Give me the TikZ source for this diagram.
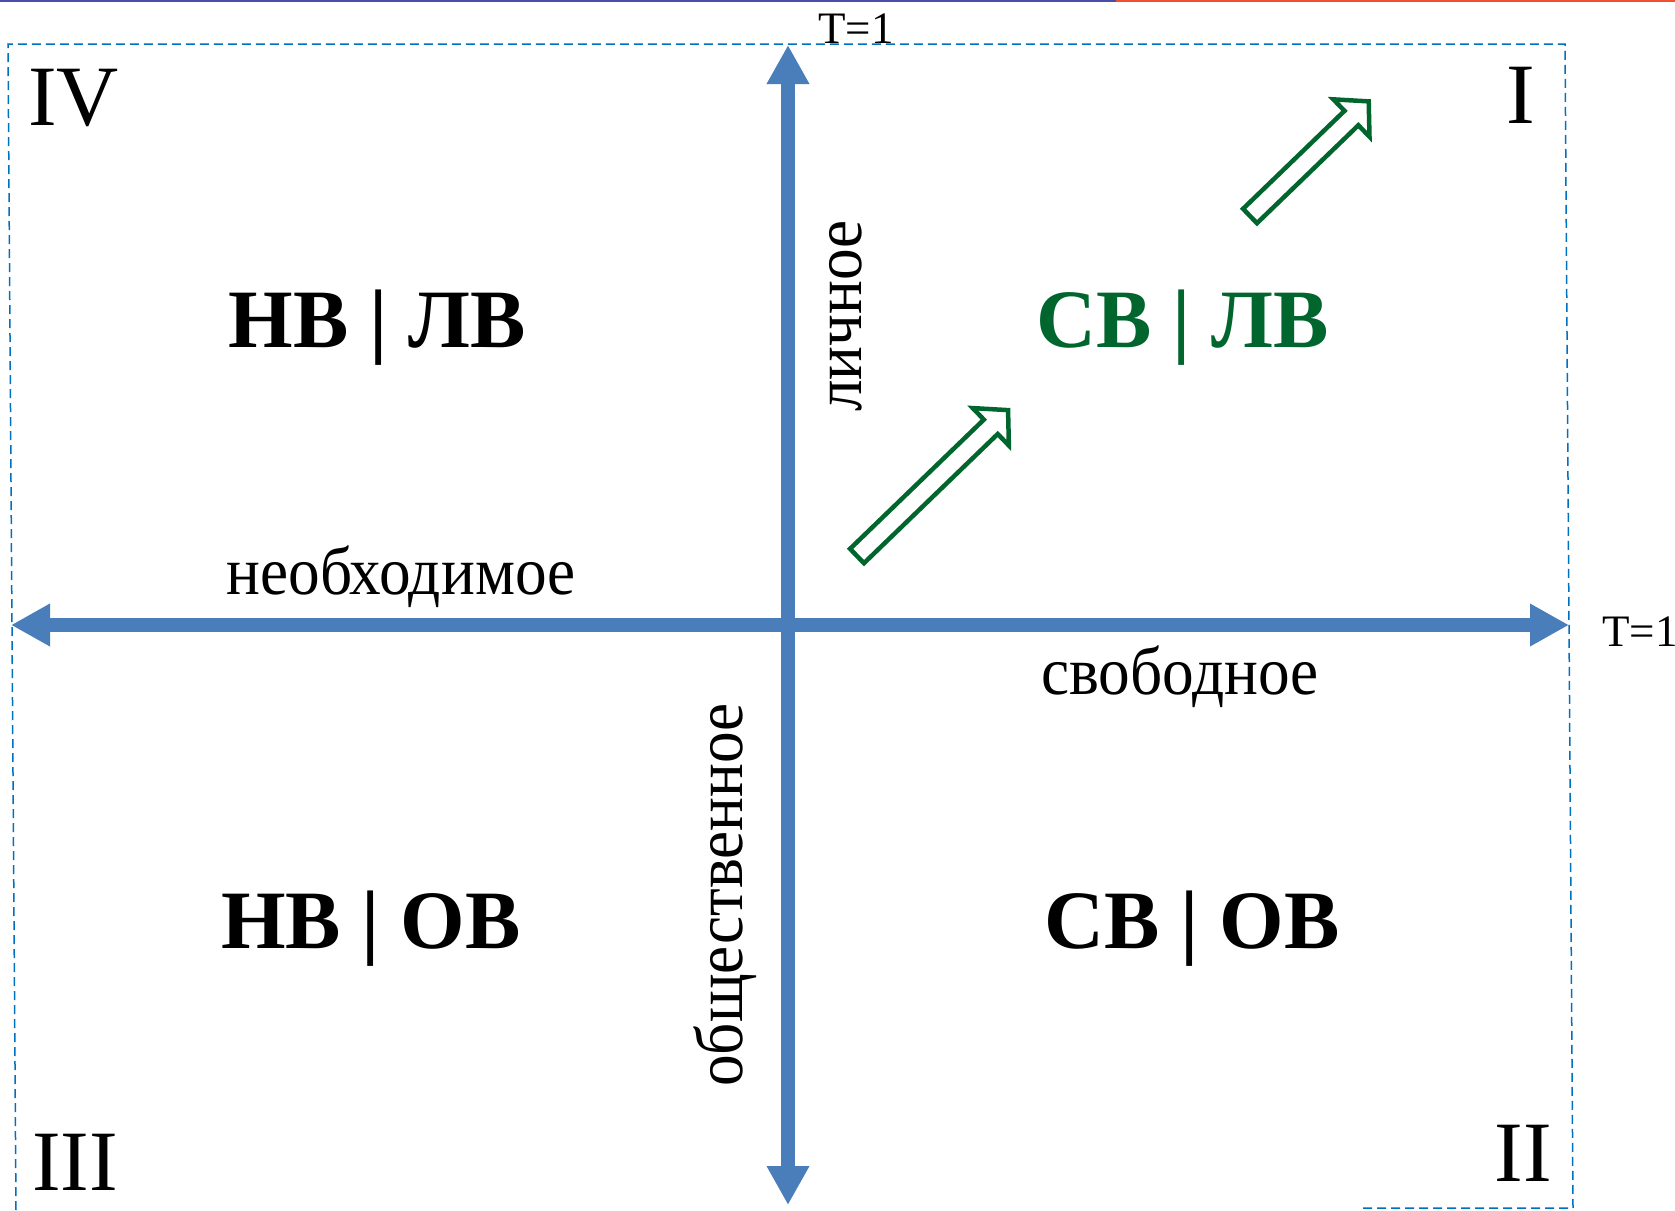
\documentclass[tikz,border=0pt]{standalone}
\usepackage{fontspec}
\setmainfont{Liberation Serif}
\newfontfamily\axisfont[FakeStretch=0.93]{Liberation Serif}
\usetikzlibrary{arrows.meta}
\definecolor{axisblue}{HTML}{4A7EBB}
\definecolor{frameblue}{HTML}{0070C0}
\definecolor{darkgreen}{HTML}{00662E}
\definecolor{barblue}{HTML}{4B4BA8}
\definecolor{barred}{HTML}{F0502D}

\begin{document}
\begin{tikzpicture}[x=1pt,y=-1pt,>={Triangle[width=40pt,length=39pt]},
                mainaxis/.style={<->,line width=14pt,draw=axisblue},
                dashframe/.style={draw=frameblue,line width=1.5pt,dash pattern=on 9pt off 5pt},
                block/.style={draw=darkgreen,line width=4.5pt,fill=white,line join=miter},
                quad/.style={font=\fontsize{83}{90}\selectfont\bfseries,anchor=base,inner sep=0pt},
                roman/.style={font=\fontsize{86}{90}\selectfont,anchor=base,inner sep=0pt},
                tlabel/.style={font=\fontsize{45}{50}\selectfont,anchor=base,inner sep=0pt},
                axislabel/.style={font=\axisfont\fontsize{68}{72}\selectfont,anchor=base,inner sep=0pt}]
                \fill[white](0, 0) rectangle (1675, 1210);
                \useasboundingbox(0, 0) rectangle (1675, 1210);
                \draw[barblue,line width=2pt](0, 1) -- (1116, 1);
                \draw[barred,line width=2pt](1116, 1) -- (1675, 1);
                \draw[dashframe](16, 1210) -- (8, 44) -- (1565, 44) -- (1573, 1208) -- (1362, 1208);
                \coordinate(W)at(11, 625);
                \coordinate(E)at(1569, 625);
                \coordinate(N)at(788, 45);
                \coordinate(S)at(788, 1205);
                \draw[mainaxis](W) -- (E);
                \draw[mainaxis](S) -- (N);
                \node[quad](nvlv)at(377, 347){НВ | ЛВ};
                \node[quad,text=darkgreen](svlv)at(1183, 347){СВ | ЛВ};
                \node[quad](nvov)at(371, 948){НВ | ОВ};
                \node[quad](svov)at(1192, 948){СВ | ОВ};
                \node[roman,anchor=base west](q4)at(28, 125){IV};
                \node[roman](q1)at(1521, 123){I};
                \node[roman,anchor=base west](q3)at(32, 1190){III};
                \node[roman](q2)at(1523, 1181){II};
                \node[tlabel](ttop)at(856, 43){T=1};
                \node[tlabel,anchor=base west](tright)at(1602, 646){T=1};
                \node[axislabel](need)at(401, 594){необходимое};
                \node[axislabel](free)at(1180, 694){свободное};
                \node[axislabel,rotate=90](pers)at(861, 316){личное};
                \node[axislabel,rotate=90](soc)at(742, 895){общественное};
                \draw[block,shift={(857, 556)},rotate=44](0, -10) -- (186, -10) -- (186, -26) -- (210, 0) -- (186, 26) -- (186, 10) -- (0, 10) -- cycle;
                \draw[block,shift={(1250, 216)},rotate=44](0, -10) -- (141, -10) -- (141, -26) -- (165, 0) -- (141, 26) -- (141, 10) -- (0, 10) -- cycle;
            \end{tikzpicture}
\end{document}
